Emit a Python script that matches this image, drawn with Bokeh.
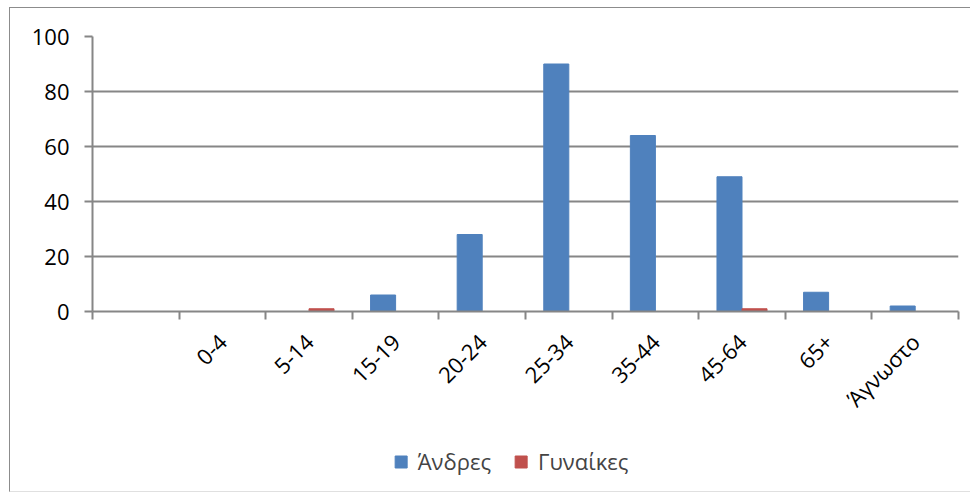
import math
from bokeh.plotting import figure
from bokeh.layouts import column
from bokeh.models import (ColumnDataSource, Range1d, FixedTicker, Legend, LegendItem)
from bokeh.transform import dodge
from bokeh.embed import file_html
from bokeh.resources import INLINE

categories = ["", "0-4", "5-14", "15-19", "20-24", "25-34", "35-44", "45-64", "65+", "Άγνωστο"]
men = [0, 0, 0, 6, 28, 90, 64, 49, 7, 2]
women = [0, 0, 1, 0, 0, 0, 0, 1, 0, 0]
y_ticks = [0, 20, 40, 60, 80, 100]
series_names = ["Άνδρες", "Γυναίκες"]

FONT = "Open Sans"
GRID = "#868686"
BLUE = "#4F81BD"
RED = "#C0504D"

xpos = [i + 0.5 for i in range(len(categories))]
src = ColumnDataSource(dict(x=xpos, cat=categories, men=men, women=women))

p = figure(output_backend="svg", toolbar_location=None,
           x_range=Range1d(0, len(categories)), y_range=Range1d(0, 100),
           frame_width=866, frame_height=275,
           min_border_left=82, min_border_top=28, min_border_right=12, min_border_bottom=120)
p.outline_line_color = None
p.background_fill_color = "white"
p.border_fill_color = "white"

bw = 0.289
r_men = p.vbar(x=dodge("x", -bw / 2, range=p.x_range), top="men", width=bw, bottom=0,
               source=src, fill_color=BLUE, line_color=BLUE)
r_women = p.vbar(x=dodge("x", bw / 2, range=p.x_range), top="women", width=bw, bottom=0,
                 source=src, fill_color=RED, line_color=RED)

# x axis
xa = p.xaxis[0]
xa.ticker = FixedTicker(ticks=xpos, minor_ticks=list(range(len(categories) + 1)))
xa.major_label_overrides = {x: c for x, c in zip(xpos, categories)}
xa.major_label_orientation = math.pi / 4
xa.major_tick_line_color = None
xa.minor_tick_line_color = GRID
xa.minor_tick_line_width = 2
xa.minor_tick_out = 8
xa.minor_tick_in = 0
xa.axis_line_color = GRID
xa.axis_line_width = 2
xa.major_label_text_font = FONT
xa.major_label_text_font_size = "22px"
xa.major_label_text_color = "black"
xa.major_label_standoff = 18

# y axis
ya = p.yaxis[0]
ya.ticker = FixedTicker(ticks=y_ticks)
ya.major_tick_line_color = GRID
ya.major_tick_line_width = 2
ya.major_tick_out = 8
ya.major_tick_in = 0
ya.minor_tick_line_color = None
ya.axis_line_color = GRID
ya.axis_line_width = 2
ya.major_label_text_font = FONT
ya.major_label_text_font_size = "22px"
ya.major_label_text_color = "black"
ya.major_label_standoff = 15

p.xgrid.grid_line_color = None
p.ygrid.grid_line_color = GRID
p.ygrid.grid_line_width = 2
p.ygrid.ticker = FixedTicker(ticks=y_ticks)

# legend strip below the chart (series mirrored, kept out of view; only the legend shows)
lp = figure(output_backend="svg", toolbar_location=None,
            x_range=Range1d(0, len(categories)), y_range=Range1d(200, 300),
            x_axis_location=None, y_axis_location=None,
            width=960, height=60, min_border=0, min_border_left=0, min_border_right=41)
lp.grid.visible = False
lp.outline_line_color = None
lp.border_fill_color = "white"
lp.background_fill_color = "white"
l_men = lp.vbar(x="x", top="men", width=bw, bottom=0, source=src,
                fill_color=BLUE, line_color=BLUE)
l_women = lp.vbar(x="x", top="women", width=bw, bottom=0, source=src,
                  fill_color=RED, line_color=RED)

legend = Legend(items=[LegendItem(label=series_names[0], renderers=[l_men]),
                       LegendItem(label=series_names[1], renderers=[l_women])],
                orientation="horizontal", location="center",
                glyph_width=15, glyph_height=15, label_standoff=10, spacing=22,
                label_text_font=FONT, label_text_font_size="22px",
                border_line_color=None, background_fill_alpha=0, padding=0, margin=0)
lp.add_layout(legend, "center")

layout = column(p, lp, spacing=0)
layout.styles = {"margin-left": "9px", "margin-top": "7px",
                 "border-left": "1px solid #8c8c8c", "border-top": "1px solid #8c8c8c",
                 "border-bottom": "1px solid #e0e0e0"}

open("out.html", "w").write(file_html(layout, INLINE))
